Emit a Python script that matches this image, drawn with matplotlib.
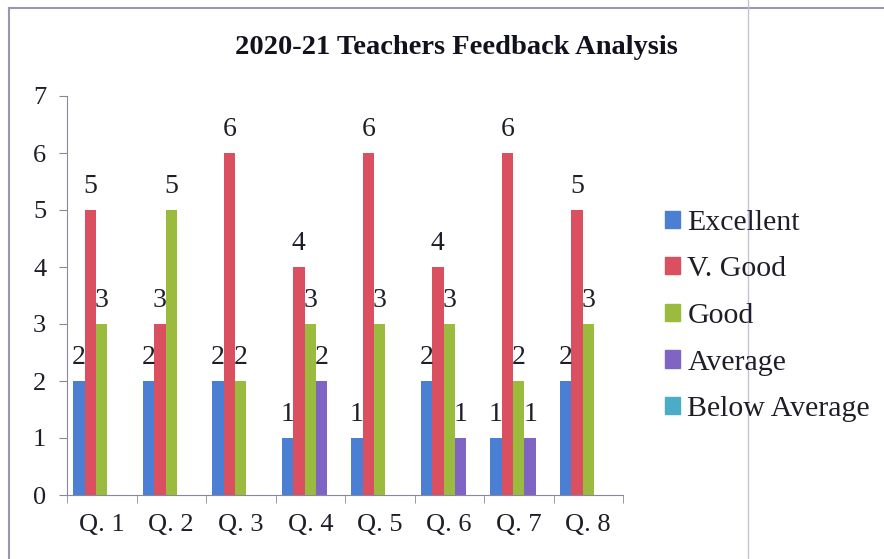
import numpy as np
import matplotlib
matplotlib.use("Agg")
import matplotlib.pyplot as plt
from matplotlib.lines import Line2D

# data
questions = ["Q. 1", "Q. 2", "Q. 3", "Q. 4", "Q. 5", "Q. 6", "Q. 7", "Q. 8"]
series_names = ["Excellent", "V. Good", "Good", "Average", "Below Average"]
excellent = [2, 2, 2, 1, 1, 2, 1, 2]
v_good = [5, 3, 6, 4, 6, 4, 6, 5]
good = [3, 5, 2, 3, 3, 3, 2, 3]
average = [0, 0, 0, 2, 0, 1, 1, 0]
below_average = [0, 0, 0, 0, 0, 0, 0, 0]
colors = ["#4A7FD4", "#DA5060", "#9BBB3E", "#8064C4", "#4BACC6"]

plt.rcParams['font.family'] = ['Liberation Serif', 'DejaVu Serif']

fig = plt.figure(figsize=(8.84, 5.59), dpi=100)
ax = fig.add_axes([67 / 884, 1 - 495 / 559, (623 - 67) / 884, (495 - 96) / 559])

x = np.arange(len(questions))
w = 0.164
all_series = [excellent, v_good, good, average, below_average]
for i, (vals, name, c) in enumerate(zip(all_series, series_names, colors)):
    pos = x + (i - 2) * w
    ax.bar(pos, vals, width=w, color=c, label=name, linewidth=0)
    # zero values carry no label in the original
    for xp, v in zip(pos, vals):
        if v > 0:
            ax.annotate(str(v), (xp, v), xytext=(0, 8), textcoords="offset points",
                        ha="center", va="bottom", fontsize=20, color="#1e1e28")

ax.set_xlim(-0.5, len(questions) - 0.5)
ax.set_ylim(0, 7)
ax.set_yticks(range(0, 8))
ax.set_xticks(x)
ax.set_xticklabels(questions)
ax.set_xticks(np.arange(-0.5, len(questions), 1), minor=True)
ax.tick_params(axis="x", which="major", length=0, pad=14, labelsize=19, labelcolor="#1e1e28")
ax.tick_params(axis="x", which="minor", length=6, color="#8a86a0")
ax.tick_params(axis="y", length=6, color="#8a86a0", labelsize=19, pad=9, labelcolor="#1e1e28")
for s in ["top", "right"]:
    ax.spines[s].set_visible(False)
for s in ["left", "bottom"]:
    ax.spines[s].set_color("#8a86a0")

fig.text(456 / 884, 1 - 48 / 559, "2020-21 Teachers Feedback Analysis", ha="center", va="center",
         fontsize=20.5, fontweight="bold", color="#12121e")

handles = [plt.Rectangle((0, 0), 1, 1, color=c) for c in colors]
fig.legend(handles, series_names, loc="center left", bbox_to_anchor=(653 / 884, 1 - 316 / 559),
           frameon=False, fontsize=21.5, handlelength=0.5, handleheight=0.5, handletextpad=0.25,
           labelspacing=0.69, borderaxespad=0, labelcolor="#1e1e28")

# outer frame of the scanned chart
fig.add_artist(Line2D([9 / 884, 9 / 884], [0, 1 - 8 / 559], color="#9a96b0", lw=1.5))
fig.add_artist(Line2D([9 / 884, 1], [1 - 8 / 559, 1 - 8 / 559], color="#9a96b0", lw=1.5))
fig.add_artist(Line2D([748 / 884, 748 / 884], [0, 1], color="#c8c0dc", lw=1))

fig.savefig("out.png", dpi=100)
